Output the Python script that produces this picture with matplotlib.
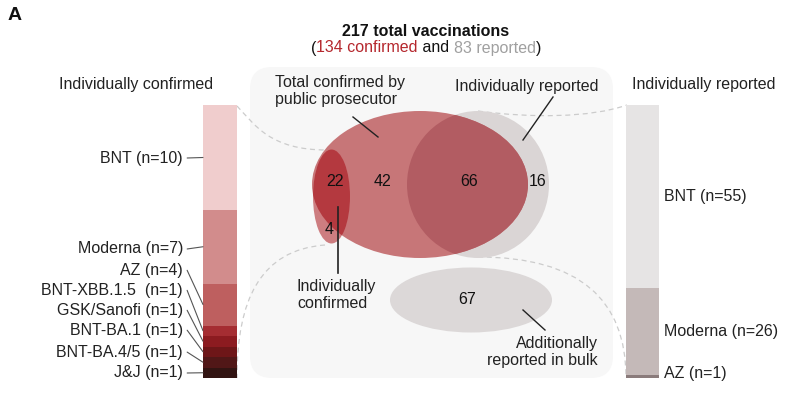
"""Vaccination overview: confirmed / reported stacked bars around a Venn-style sketch."""
import matplotlib
matplotlib.use("Agg")
import numpy as np
import matplotlib.pyplot as plt
from matplotlib.patches import Ellipse, FancyBboxPatch, PathPatch
from matplotlib.path import Path

plt.rcParams["font.family"] = ["Liberation Sans", "DejaVu Sans"]
plt.rcParams["font.size"] = 11.5

W, H = 799, 397
INK = "#222222"
DASH = "#cccccc"

# left bar: individually confirmed vaccinations
conf_labels = ["BNT", "Moderna", "AZ", "BNT-XBB.1.5 ", "GSK/Sanofi",
               "BNT-BA.1", "BNT-BA.4/5", "J&J"]
conf_counts = [10, 7, 4, 1, 1, 1, 1, 1]
conf_colors = ["#f0cdcd", "#d28c8c", "#be5f5f", "#a52d32",
               "#8c1b20", "#6e1618", "#511717", "#321412"]

# right bar: individually reported vaccinations
rep_labels = ["BNT", "Moderna", "AZ"]
rep_counts = [55, 26, 1]
rep_colors = ["#e6e4e4", "#c4b9b8", "#8a7b7b"]

# venn region counts
venn_counts = [22, 4, 42, 66, 16, 67]
total_confirmed = 134
total_reported = 83

# layout (pixels)
conf_label_y = [158, 249, 270, 290, 310, 330, 352, 373]
venn_pos = [(335, 182), (329, 230), (383, 182), (469, 182), (538, 182), (467, 299)]


def dashed_curve(ax, pts):
    path = Path(pts, [Path.MOVETO, Path.CURVE4, Path.CURVE4, Path.CURVE4])
    ax.add_patch(PathPatch(path, fill=False, ec=DASH, lw=0.9,
                           ls=(0, (4, 3)), zorder=1))


fig = plt.figure(figsize=(W / 100, H / 100), dpi=100)
ax = fig.add_axes([0, 0, 1, 1])
ax.set_xlim(0, W)
ax.set_ylim(H, 0)
ax.axis("off")

ax.text(15, 15, "A", fontsize=14, fontweight="bold", ha="center", va="center", color="#111")

# background panel
ax.add_patch(FancyBboxPatch((250, 67), 363, 311, boxstyle="round,pad=0,rounding_size=22",
                            fc="#f7f7f7", ec="none", zorder=0))

# dashed links between bars and venn
dashed_curve(ax, [(237, 106), (255, 125), (270, 150), (327, 150)])
dashed_curve(ax, [(325, 245), (260, 250), (237, 300), (237, 378)])
dashed_curve(ax, [(478, 111), (530, 118), (590, 118), (627, 105)])
dashed_curve(ax, [(478, 257), (580, 257), (626, 300), (626, 378)])

# venn shapes
rep_ell = Ellipse((478, 184.5), 142, 147, fc="#dad5d5", ec="none", zorder=2)
ax.add_patch(rep_ell)
big = Ellipse((420, 184.5), 216, 147, fc="#c77678", ec="none", zorder=3)
ax.add_patch(big)
ov = Ellipse((478, 184.5), 142, 147, fc="#b25c62", ec="none", zorder=3.5)
ax.add_patch(ov)
ov.set_clip_path(big)
small = Ellipse((331.5, 196.5), 37, 94, fc="#cd7d80", ec="none", zorder=4)
ax.add_patch(small)
small_ov = Ellipse((331.5, 196.5), 37, 94, fc="#b4393f", ec="none", zorder=4.5)
ax.add_patch(small_ov)
small_ov.set_clip_path(big)
ax.add_patch(Ellipse((471, 300), 162, 65, fc="#dcd8d8", ec="none", zorder=2))

for n, (x, y) in zip(venn_counts, venn_pos):
    ax.text(x, y, str(n), ha="center", va="center", color="#111", zorder=6)

# callouts
ax.text(275, 91, "Total confirmed by\npublic prosecutor", ha="left", va="center",
        linespacing=1.15, color=INK, zorder=6)
ax.plot([353, 378], [117, 137], color=INK, lw=1, zorder=6)
ax.text(455, 86, "Individually reported", ha="left", va="center", color=INK, zorder=6)
ax.plot([553, 523], [97, 140], color=INK, lw=1, zorder=6)
ax.text(297, 295, "Individually\nconfirmed", ha="left", va="center",
        linespacing=1.25, color=INK, zorder=6)
ax.plot([338, 338], [207, 273], color=INK, lw=1.2, zorder=6)
ax.text(598, 352, "Additionally\nreported in bulk", ha="right", va="center",
        multialignment="right", linespacing=1.1, color=INK, zorder=6)
ax.plot([523, 545], [310, 330], color=INK, lw=1, zorder=6)

# title
ax.text(426, 31, f"{total_confirmed + total_reported} total vaccinations", ha="center",
        va="center", fontweight="bold", color="#111")
pieces = ["(", f"{total_confirmed} confirmed", " and ", f"{total_reported} reported", ")"]
piece_colors = ["#111", "#b5272d", "#111", "#a0a0a0", "#111"]
texts = [ax.text(308, 48, pieces[0], ha="left", va="center", color=piece_colors[0])]
for s, c in zip(pieces[1:], piece_colors[1:]):
    texts.append(ax.annotate(s, xy=(1, 0), xycoords=texts[-1], ha="left", va="bottom", color=c))

ax.text(136, 85, "Individually confirmed", ha="center", va="center", color=INK)
ax.text(704, 85, "Individually reported", ha="center", va="center", color=INK)

# left stacked bar
ax_l = fig.add_axes([203 / W, 1 - 378 / H, 34 / W, 273 / H])
bottoms = np.concatenate([[0], np.cumsum(conf_counts)[:-1]])
ax_l.bar(0, conf_counts, bottom=bottoms, width=1, color=conf_colors, lw=0)
ax_l.set_xlim(-0.5, 0.5)
ax_l.set_ylim(sum(conf_counts), 0)
ax_l.axis("off")
for name, n, b, ly in zip(conf_labels, conf_counts, bottoms, conf_label_y):
    ax_l.annotate(f"{name} (n={n})", xy=(-0.5, b + n / 2), xytext=(183, ly),
                  textcoords=ax.transData, ha="right", va="center", color=INK,
                  annotation_clip=False,
                  arrowprops=dict(arrowstyle="-", relpos=(1, 0.5), color="#555", lw=0.8,
                                  shrinkA=1, shrinkB=0,
                                  connectionstyle="arc,angleA=0,armA=4,angleB=180,armB=0,rad=0"))

# right stacked bar
ax_r = fig.add_axes([626 / W, 1 - 378 / H, 33 / W, 273 / H])
rb = np.concatenate([[0], np.cumsum(rep_counts)[:-1]])
ax_r.bar(0, rep_counts, bottom=rb, width=1, color=rep_colors, lw=0)
ax_r.set_xlim(-0.5, 0.5)
ax_r.set_ylim(sum(rep_counts), 0)
ax_r.axis("off")
for name, n, b, dy in zip(rep_labels, rep_counts, rb, [0, 0, 3]):
    ax_r.annotate(f"{name} (n={n})", xy=(0.5, b + n / 2), xytext=(5, dy),
                  textcoords="offset pixels", ha="left", va="center", color=INK,
                  annotation_clip=False)

# center the coloured subtitle
fig.canvas.draw()
r = fig.canvas.get_renderer()
x0 = texts[0].get_window_extent(r).x0
x1 = texts[-1].get_window_extent(r).x1
texts[0].set_x(426 - (x1 - x0) / 2)

fig.savefig("out.png", dpi=100)
